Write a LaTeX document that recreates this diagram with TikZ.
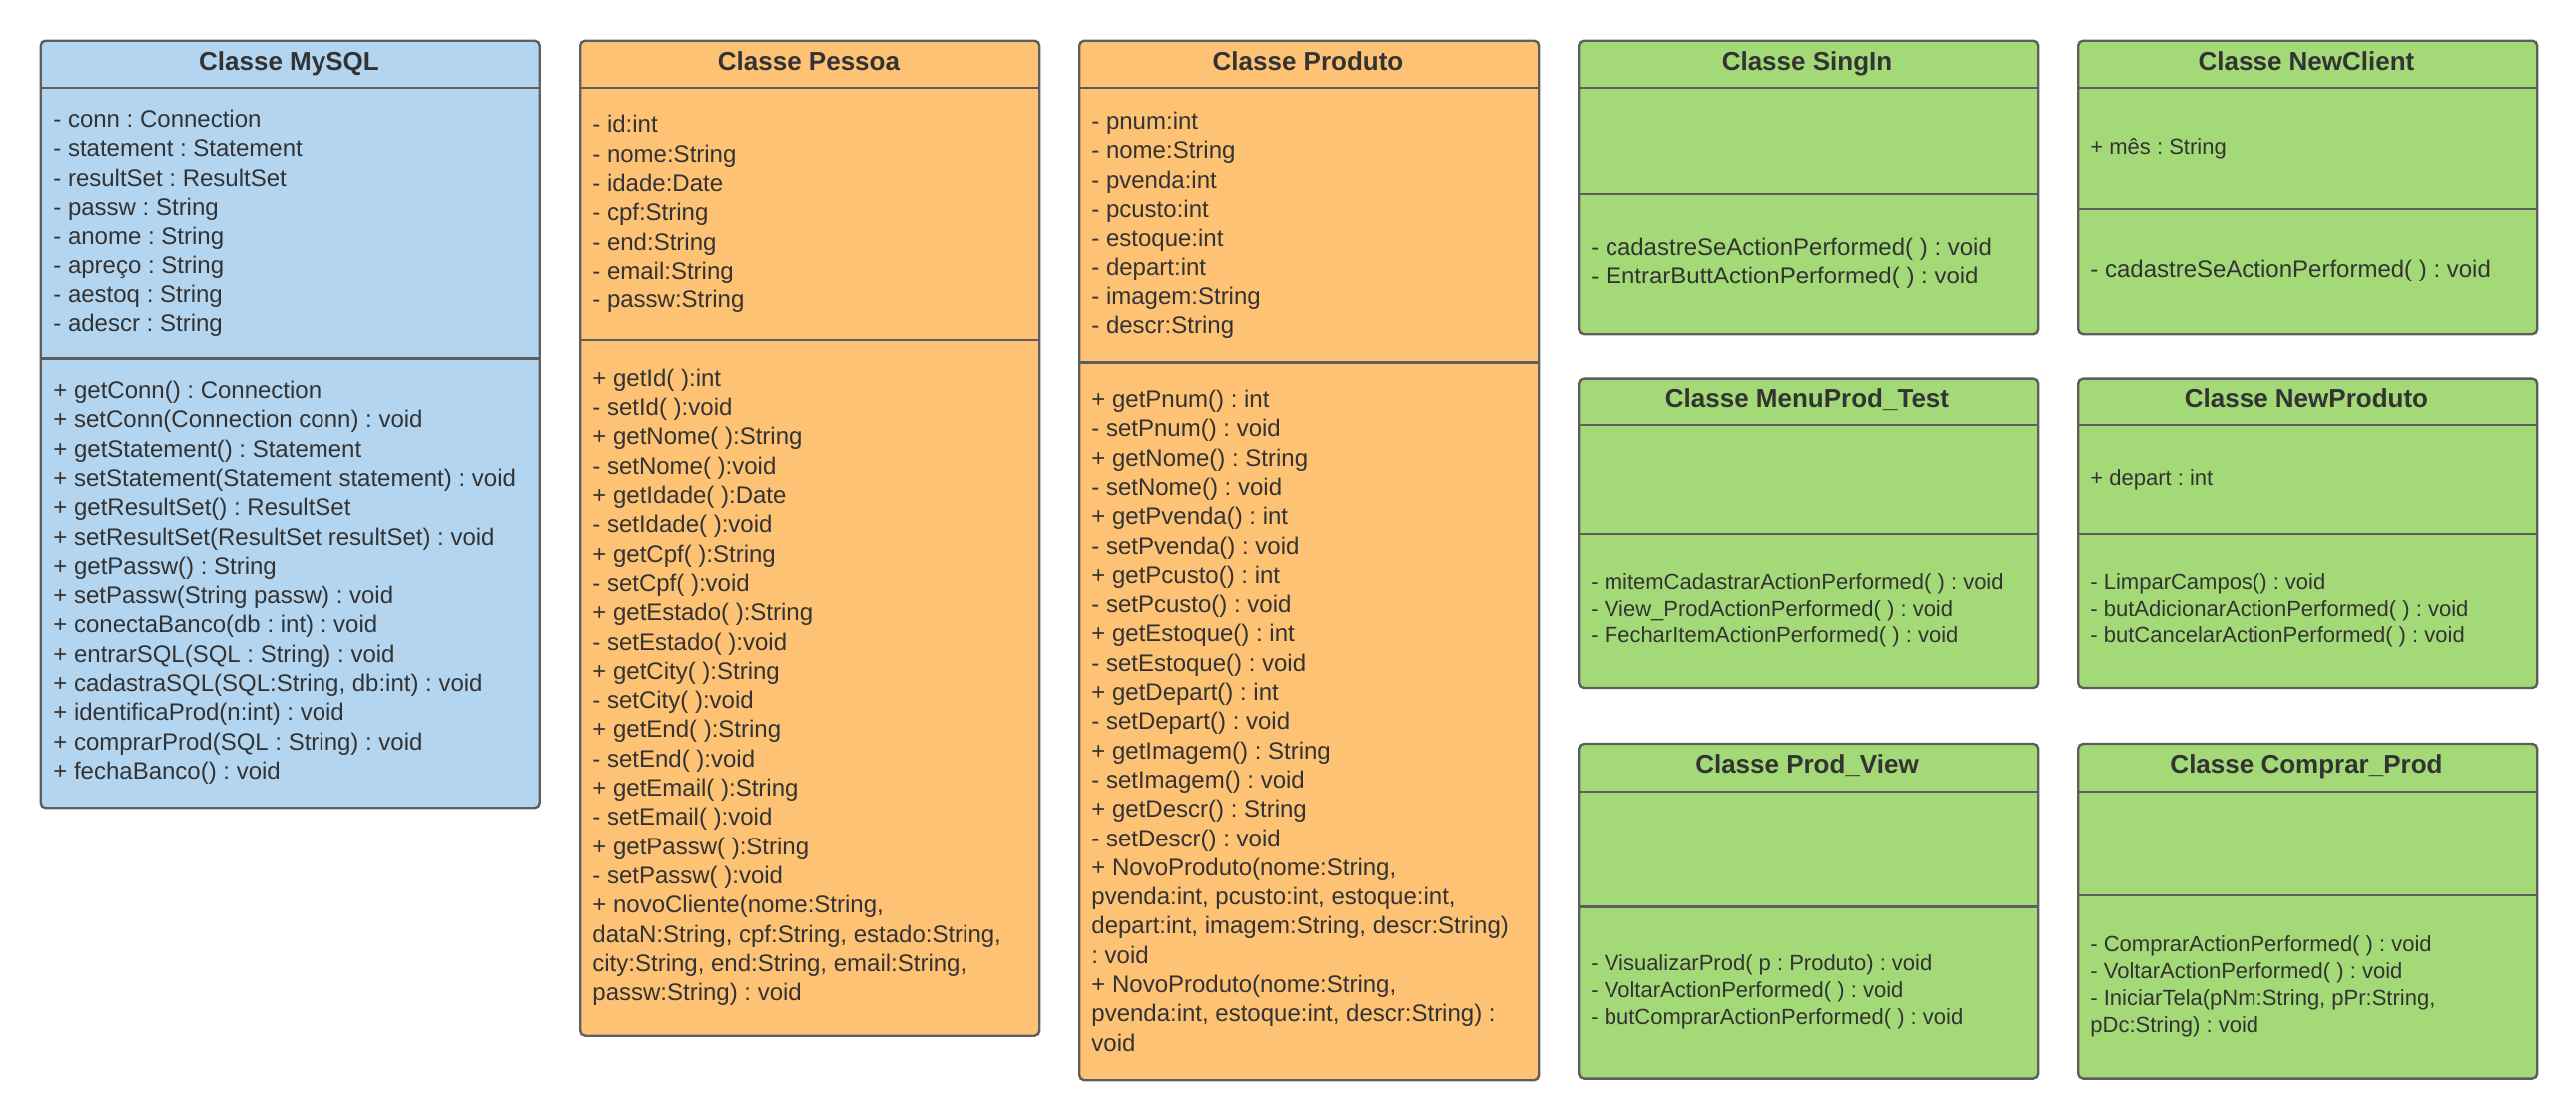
\documentclass[tikz,border=0pt]{standalone}
\usepackage{fontspec}
\setmainfont{Liberation Sans}
\usepackage{xcolor}
\usetikzlibrary{positioning}
\definecolor{dbblue}{HTML}{B3D5F0}
\definecolor{entorange}{HTML}{FDC274}
\definecolor{guigreen}{HTML}{A3D977}
\definecolor{edge}{HTML}{5E5E5E}
\definecolor{ink}{HTML}{333333}
\frenchspacing

\begin{document}
\begin{tikzpicture}[x=1pt,y=-1pt,
  cls/.style={draw=edge,line width=1.2pt,rounded corners=2.5pt,anchor=north west,inner sep=0pt,minimum width=230pt},
  ttl/.style={font=\fontsize{13}{15}\selectfont\bfseries,text=ink,inner sep=0pt,text height=9.5pt,text depth=2.5pt},
  mbr/.style={anchor=west,align=left,inner sep=0pt,text=ink,font=\fontsize{12}{14.65}\selectfont},
  smbr/.style={mbr,font=\fontsize{11}{13.4}\selectfont},
  divline/.style={draw=edge,line width=1.2pt}]
\path[fill=white,use as bounding box] (0,0) rectangle (1290,560);

% data classes
\node[cls,fill=dbblue,minimum width=250pt,minimum height=384.25pt] (mysql) at (19.75,19.75) {};
\node[ttl] (mysqlT) at (144.75,31.6) {Classe MySQL};
\draw[divline] (19.75,44) -- (269.75,44);
\draw[divline] (19.75,179.75) -- (269.75,179.75);
\node[mbr] (mysqlA) at (26.5,111.9) {- conn : Connection\\- statement : Statement\\- resultSet : ResultSet\\- passw : String\\- anome : String\\- apreço : String\\- aestoq : String\\- adescr : String};
\node[mbr] (mysqlM) at (26.5,291.9) {+ getConn() : Connection\\+ setConn(Connection conn) : void\\+ getStatement() : Statement\\+ setStatement(Statement statement) : void\\+ getResultSet() : ResultSet\\+ setResultSet(ResultSet resultSet) : void\\+ getPassw() : String\\+ setPassw(String passw) : void\\+ conectaBanco(db : int) : void\\+ entrarSQL(SQL : String) : void\\+ cadastraSQL(SQL:String, db:int) : void\\+ identificaProd(n:int) : void\\+ comprarProd(SQL : String) : void\\+ fechaBanco() : void};

\node[cls,fill=entorange,minimum height=498.5pt] (pessoa) at (290,19.75) {};
\node[ttl] (pessoaT) at (405,31.6) {Classe Pessoa};
\draw[divline] (290,44) -- (520,44);
\draw[divline] (290,170.5) -- (520,170.5);
\node[mbr] (pessoaA) at (296.5,107.25) {- id:int\\- nome:String\\- idade:Date\\- cpf:String\\- end:String\\- email:String\\- passw:String};
\node[mbr] (pessoaM) at (296.5,344.4) {+ getId( ):int\\- setId( ):void\\+ getNome( ):String\\- setNome( ):void\\+ getIdade( ):Date\\- setIdade( ):void\\+ getCpf( ):String\\- setCpf( ):void\\+ getEstado( ):String\\- setEstado( ):void\\+ getCity( ):String\\- setCity( ):void\\+ getEnd( ):String\\- setEnd( ):void\\+ getEmail( ):String\\- setEmail( ):void\\+ getPassw( ):String\\- setPassw( ):void\\+ novoCliente(nome:String,\\dataN:String, cpf:String, estado:String,\\city:String, end:String, email:String,\\passw:String) : void};

\node[cls,fill=entorange,minimum height=520.75pt] (produto) at (540,19.75) {};
\node[ttl] (produtoT) at (655,31.6) {Classe Produto};
\draw[divline] (540,44) -- (770,44);
\draw[divline] (540,181.8) -- (770,181.8);
\node[mbr] (produtoA) at (546.5,112.9) {- pnum:int\\- nome:String\\- pvenda:int\\- pcusto:int\\- estoque:int\\- depart:int\\- imagem:String\\- descr:String};
\node[mbr] (produtoM) at (546.5,361.15) {+ getPnum() : int\\- setPnum() : void\\+ getNome() : String\\- setNome() : void\\+ getPvenda() : int\\- setPvenda() : void\\+ getPcusto() : int\\- setPcusto() : void\\+ getEstoque() : int\\- setEstoque() : void\\+ getDepart() : int\\- setDepart() : void\\+ getImagem() : String\\- setImagem() : void\\+ getDescr() : String\\- setDescr() : void\\+ NovoProduto(nome:String,\\pvenda:int, pcusto:int, estoque:int,\\depart:int, imagem:String, descr:String)\\: void\\+ NovoProduto(nome:String,\\pvenda:int, estoque:int, descr:String) :\\void};

% screen classes
\node[cls,fill=guigreen,minimum height=147.25pt] (singin) at (790,19.75) {};
\node[ttl] (singinT) at (905,31.6) {Classe SingIn};
\draw[divline] (790,44) -- (1020,44);
\draw[divline] (790,97) -- (1020,97);
\node[mbr] (singinM) at (796.5,132) {- cadastreSeActionPerformed( ) : void\\- EntrarButtActionPerformed( ) : void};

\node[cls,fill=guigreen,minimum height=147.25pt] (newclient) at (1040,19.75) {};
\node[ttl] (newclientT) at (1155,31.6) {Classe NewClient};
\draw[divline] (1040,44) -- (1270,44);
\draw[divline] (1040,104.5) -- (1270,104.5);
\node[smbr] (newclientA) at (1046.5,74.25) {+ mês : String};
\node[mbr] (newclientM) at (1046.5,135.75) {- cadastreSeActionPerformed( ) : void};

\node[cls,fill=guigreen,minimum height=154.7pt] (menuprod) at (790,189.2) {};
\node[ttl] (menuprodT) at (905,200.6) {Classe MenuProd\_Test};
\draw[divline] (790,213.1) -- (1020,213.1);
\draw[divline] (790,267.4) -- (1020,267.4);
\node[smbr] (menuprodM) at (796.5,305.65) {- mitemCadastrarActionPerformed( ) : void\\- View\_ProdActionPerformed( ) : void\\- FecharItemActionPerformed( ) : void};

\node[cls,fill=guigreen,minimum height=154.7pt] (newprod) at (1040,189.2) {};
\node[ttl] (newprodT) at (1155,200.6) {Classe NewProduto};
\draw[divline] (1040,213.1) -- (1270,213.1);
\draw[divline] (1040,267.4) -- (1270,267.4);
\node[smbr] (newprodA) at (1046.5,240.25) {+ depart : int};
\node[smbr] (newprodM) at (1046.5,305.65) {- LimparCampos() : void\\- butAdicionarActionPerformed( ) : void\\- butCancelarActionPerformed( ) : void};

\node[cls,fill=guigreen,minimum height=167.8pt] (prodview) at (790,371.9) {};
\node[ttl] (prodviewT) at (905,383.8) {Classe Prod\_View};
\draw[divline] (790,396.5) -- (1020,396.5);
\draw[divline] (790,454.2) -- (1020,454.2);
\node[smbr] (prodviewM) at (796.5,496.95) {- VisualizarProd( p : Produto) : void\\- VoltarActionPerformed( ) : void\\- butComprarActionPerformed( ) : void};

\node[cls,fill=guigreen,minimum height=167.8pt] (comprar) at (1040,371.9) {};
\node[ttl] (comprarT) at (1155,383.8) {Classe Comprar\_Prod};
\draw[divline] (1040,396.5) -- (1270,396.5);
\draw[divline] (1040,448.4) -- (1270,448.4);
\node[smbr] (comprarM) at (1046.5,494.05) {- ComprarActionPerformed( ) : void\\- VoltarActionPerformed( ) : void\\- IniciarTela(pNm:String, pPr:String,\\pDc:String) : void};
\end{tikzpicture}
\end{document}
